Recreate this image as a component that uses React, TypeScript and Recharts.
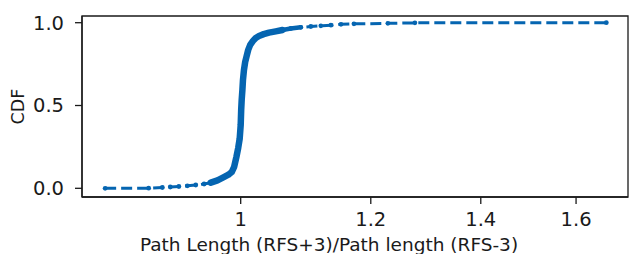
import React from 'react';
import { LineChart, Line, XAxis, YAxis, ReferenceArea } from 'recharts';

// ratio of path lengths (x, log axis) and its CDF
const ratioValues = [
  0.827, 0.879, 0.896, 0.906, 0.917, 0.928, 0.939, 0.95, 0.959, 0.968, 0.976,
  0.983, 0.9875, 0.9909, 0.994, 0.9965, 0.9986, 1.0, 1.0007, 1.0014, 1.0024,
  1.0032, 1.0046, 1.0063, 1.0084, 1.0106, 1.0134, 1.0174, 1.0213, 1.026,
  1.0328, 1.0405, 1.0503, 1.0603, 1.0727, 1.0879, 1.1033, 1.1189, 1.1348,
  1.1509, 1.172, 1.2291, 1.2765, 1.6693,
];
const cdfValues = [
  0, 0.001, 0.005, 0.008, 0.011, 0.015, 0.02, 0.026, 0.034, 0.048, 0.066,
  0.082, 0.098, 0.13, 0.189, 0.243, 0.3, 0.382, 0.473, 0.534, 0.594,
  0.654, 0.715, 0.763, 0.799, 0.836, 0.866, 0.89, 0.908, 0.92,
  0.931, 0.94, 0.948, 0.956, 0.965, 0.972, 0.977, 0.981, 0.985,
  0.99, 0.993, 0.996, 0.999, 1.0,
];
const xTicks = [1, 1.2, 1.4, 1.6];
const yTicks = [0, 0.5, 1];

const X_DOMAIN = [0.8006, 1.7208];
const Y_DOMAIN = [-0.0525, 1.0405];

const BLUE = '#0565b1';
const INK = '#1a1a1a';
const FONT = '"DejaVu Sans", sans-serif';

const points = ratioValues.map((x, i) => ({ x, cdf: cdfValues[i] }));
// where the markers pile up the line reads as one thick solid stroke
const densePart = points.filter(p => p.x >= 0.955 && p.x <= 1.062);
const kneePart = points.filter(p => p.x >= 1.06 && p.x <= 1.09);

const YLabel = ({ viewBox }: any) => {
  const x = viewBox.x + 18;
  const y = viewBox.y + viewBox.height / 2;
  return (
    <text
      x={x}
      y={y}
      transform={`rotate(-90 ${x} ${y})`}
      textAnchor="middle"
      dominantBaseline="central"
      fontSize={17.5}
      fontFamily={FONT}
      fill={INK}
    >
      CDF
    </text>
  );
};

const XLabel = ({ viewBox }: any) => (
  <text
    x={viewBox.x + viewBox.width / 2 - 26}
    y={viewBox.y + viewBox.height - 3}
    textAnchor="middle"
    fontSize={18.5}
    fontFamily={FONT}
    fill={INK}
  >
    Path Length (RFS+3)/Path length (RFS-3)
  </text>
);

export default function App() {
  const tickStyle = { fontSize: 19.5, fontFamily: FONT, fill: INK };
  const axisLine = { stroke: INK, strokeWidth: 1.3 };
  return (
    <div style={{ width: 630, height: 254 }}>
      <style>{'body{margin:0}'}</style>
      <LineChart width={630} height={254} margin={{ top: 16, right: 2, bottom: 0, left: 0 }}>
        <XAxis
          dataKey="x"
          type="number"
          scale="log"
          domain={X_DOMAIN}
          allowDataOverflow
          ticks={xTicks}
          tickFormatter={(v: number) => (v === 1 ? '1' : v.toFixed(1))}
          height={57}
          tickSize={7}
          tickMargin={8}
          tick={tickStyle}
          axisLine={axisLine}
          tickLine={axisLine}
          label={<XLabel />}
        />
        <YAxis
          type="number"
          domain={Y_DOMAIN}
          allowDataOverflow
          ticks={yTicks}
          tickFormatter={(v: number) => v.toFixed(1)}
          width={82}
          tickSize={7}
          tickMargin={11}
          tick={tickStyle}
          axisLine={axisLine}
          tickLine={axisLine}
          label={<YLabel />}
        />
        <ReferenceArea
          x1={X_DOMAIN[0]}
          x2={X_DOMAIN[1]}
          y1={Y_DOMAIN[0]}
          y2={Y_DOMAIN[1]}
          fill="none"
          stroke={INK}
          strokeWidth={1.3}
          ifOverflow="visible"
        />
        <Line
          data={densePart}
          dataKey="cdf"
          type="linear"
          stroke={BLUE}
          strokeWidth={6.5}
          strokeLinecap="round"
          strokeLinejoin="round"
          dot={false}
          isAnimationActive={false}
        />
        <Line
          data={kneePart}
          dataKey="cdf"
          type="linear"
          stroke={BLUE}
          strokeWidth={4.5}
          strokeLinecap="round"
          dot={false}
          isAnimationActive={false}
        />
        <Line
          data={points}
          dataKey="cdf"
          type="linear"
          stroke={BLUE}
          strokeWidth={3}
          strokeDasharray="11 5"
          dot={{ r: 2.4, fill: BLUE, stroke: 'none' }}
          isAnimationActive={false}
        />
      </LineChart>
    </div>
  );
}
